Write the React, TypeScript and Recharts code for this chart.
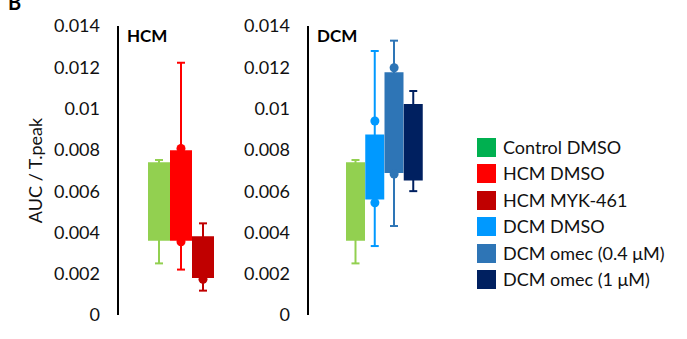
import React from 'react';
import { ComposedChart, Bar, Line, XAxis, YAxis, Cell, Label } from 'recharts';

// ---------- data ----------
const hcmCategories = ['Control DMSO', 'HCM DMSO', 'HCM MYK-461'];
const hcmMin = [0.0025, 0.0022, 0.00118];
const hcmQ1 = [0.0036, 0.0036, 0.00179];
const hcmQ3 = [0.0074, 0.00798, 0.00381];
const hcmMax = [0.00751, 0.01222, 0.00444];
const hcmDotHi = [null, 0.00807, null];
const hcmDotLo = [null, 0.00355, 0.00173];
const hcmColors = ['#92D050', '#FF0000', '#C00000'];

const dcmCategories = ['Control DMSO', 'DCM DMSO', 'DCM omec (0.4 μM)', 'DCM omec (1 μM)'];
const dcmMin = [0.0025, 0.00334, 0.00431, 0.006];
const dcmQ1 = [0.0036, 0.00559, 0.00688, 0.00652];
const dcmQ3 = [0.0074, 0.00875, 0.01176, 0.01022];
const dcmMax = [0.00751, 0.01279, 0.01329, 0.01085];
const dcmDotHi = [null, 0.0094, 0.01198, null];
const dcmDotLo = [null, 0.00544, 0.00683, null];
const dcmColors = ['#92D050', '#0099FF', '#2E75B6', '#002060'];

const yTicks = [0, 0.002, 0.004, 0.006, 0.008, 0.01, 0.012, 0.014];
const yTickLabels = ['0', '0.002', '0.004', '0.006', '0.008', '0.01', '0.012', '0.014'];

const legendLabels = ['Control DMSO', 'HCM DMSO', 'HCM MYK-461', 'DCM DMSO', 'DCM omec (0.4 μM)', 'DCM omec (1 μM)'];
const legendColors = ['#00B050', '#FF0000', '#C00000', '#0099FF', '#2E75B6', '#002060'];

const FONT = 'Lato, "Open Sans", "Noto Sans", sans-serif';

type Row = {
  name: string;
  box: [number, number];
  whisker: [number, number];
  dotHi: number | null;
  dotLo: number | null;
  color: string;
};

function buildRows(
  cats: string[], mins: number[], q1: number[], q3: number[], maxs: number[],
  hi: (number | null)[], lo: (number | null)[], colors: string[]
): Row[] {
  return cats.map((name, i) => ({
    name,
    box: [q1[i], q3[i]],
    whisker: [mins[i], maxs[i]],
    dotHi: hi[i],
    dotLo: lo[i],
    color: colors[i],
  }));
}

const hcmRows = buildRows(hcmCategories, hcmMin, hcmQ1, hcmQ3, hcmMax, hcmDotHi, hcmDotLo, hcmColors);
const dcmRows = buildRows(dcmCategories, dcmMin, dcmQ1, dcmQ3, dcmMax, dcmDotHi, dcmDotLo, dcmColors);

const Whisker = (props: any) => {
  const { x, y, width, height, payload } = props;
  if (x == null || y == null || !payload) return <g />;
  const cx = x + width / 2;
  const top = Math.min(y, y + height);
  const bot = Math.max(y, y + height);
  const c = payload.color;
  return (
    <g>
      <line x1={cx} x2={cx} y1={top} y2={bot} stroke={c} strokeWidth={2} />
      <line x1={cx - 4} x2={cx + 4} y1={top} y2={top} stroke={c} strokeWidth={2} />
      <line x1={cx - 4} x2={cx + 4} y1={bot} y2={bot} stroke={c} strokeWidth={2} />
    </g>
  );
};

const renderDot = (props: any) => {
  const { cx, cy, payload, value, index, dataKey } = props;
  const key = `${dataKey}-${index}`;
  if (value == null || cy == null || Number.isNaN(cy)) return <g key={key} />;
  return <circle key={key} cx={cx} cy={cy} r={4.5} fill={payload.color} />;
};

type PanelProps = {
  rows: Row[];
  left: number;
  width: number;
  yAxisWidth: number;
  padLeft: number;
  padRight: number;
  showLabel?: boolean;
};

function Panel({ rows, left, width, yAxisWidth, padLeft, padRight, showLabel }: PanelProps) {
  return (
    <div style={{ position: 'absolute', left, top: 0 }}>
      <ComposedChart
        width={width}
        height={339}
        data={rows}
        margin={{ top: 26, right: 0, bottom: 24, left: 0 }}
        barCategoryGap={0}
        barGap={0}
      >
        <XAxis xAxisId="box" dataKey="name" type="category" hide padding={{ left: padLeft, right: padRight }} />
        <XAxis xAxisId="whisk" dataKey="name" type="category" hide padding={{ left: padLeft, right: padRight }} />
        <YAxis
          type="number"
          domain={[0, 0.014]}
          ticks={yTicks}
          interval={0}
          width={yAxisWidth}
          tickLine={false}
          tickSize={0}
          tickMargin={18}
          axisLine={{ stroke: '#000', strokeWidth: 2 }}
          tickFormatter={(v: number, i: number) => yTickLabels[i] ?? String(v)}
          tick={{ fontSize: 18, fill: '#111', fontFamily: FONT }}
        >
          {showLabel ? (
            <Label
              content={(p: any) => {
                const vb = p.viewBox || { x: 0, y: 26, width: 118, height: 289 };
                const cx = vb.x + 35;
                const cy = vb.y + vb.height / 2;
                return (
                  <text
                    x={cx}
                    y={cy}
                    transform={`rotate(-90 ${cx} ${cy})`}
                    textAnchor="middle"
                    dominantBaseline="central"
                    fontSize={18}
                    fill="#111"
                    fontFamily={FONT}
                  >
                    AUC / T.peak
                  </text>
                );
              }}
            />
          ) : null}
        </YAxis>
        <Bar xAxisId="whisk" dataKey="whisker" shape={Whisker} isAnimationActive={false} />
        <Bar xAxisId="box" dataKey="box" isAnimationActive={false}>
          {rows.map((r, i) => (
            <Cell key={`c${i}`} fill={r.color} />
          ))}
        </Bar>
        <Line xAxisId="box" dataKey="dotHi" stroke="none" dot={renderDot} activeDot={false} isAnimationActive={false} />
        <Line xAxisId="box" dataKey="dotLo" stroke="none" dot={renderDot} activeDot={false} isAnimationActive={false} />
      </ComposedChart>
    </div>
  );
}

export default function App() {
  return (
    <div
      style={{
        position: 'absolute',
        left: 0,
        top: 0,
        width: 687,
        height: 339,
        background: '#fff',
        fontFamily: FONT,
        overflow: 'hidden',
      }}
    >
      <Panel rows={hcmRows} left={0} width={230} yAxisWidth={118} padLeft={30} padRight={16} showLabel />
      <Panel rows={dcmRows} left={230} width={204} yAxisWidth={78} padLeft={38} padRight={11} />
      <svg width={687} height={339} style={{ position: 'absolute', left: 0, top: 0, pointerEvents: 'none' }}>
        <text x={8} y={10} fontSize={20} fontWeight={700} fill="#000" fontFamily={FONT}>B</text>
        <text x={127} y={42} fontSize={17} fontWeight={700} fill="#000" fontFamily={FONT}>HCM</text>
        <text x={317} y={42} fontSize={17} fontWeight={700} fill="#000" fontFamily={FONT}>DCM</text>
      </svg>
      {legendLabels.map((lab, i) => (
        <div
          key={lab}
          style={{
            position: 'absolute',
            left: 477,
            top: 138 + i * 26.4,
            height: 19,
            display: 'flex',
            alignItems: 'center',
            whiteSpace: 'nowrap',
          }}
        >
          <div style={{ width: 19, height: 19, background: legendColors[i] }} />
          <span style={{ marginLeft: 7, fontSize: 18, color: '#111', lineHeight: '19px' }}>{lab}</span>
        </div>
      ))}
    </div>
  );
}
